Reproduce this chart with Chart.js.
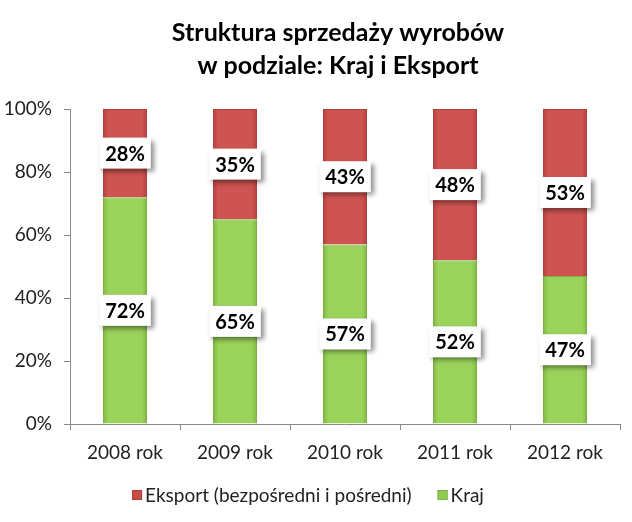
<!DOCTYPE html>
<html><head><meta charset="utf-8">
<script src="https://cdn.jsdelivr.net/npm/chart.js@4"></script>
<style>html,body{margin:0;padding:0;background:#fff}#wrap{width:632px;height:522px}</style>
</head><body><div id="wrap"><canvas id="c" width="632" height="522"></canvas></div>
<script>
const categories = ['2008 rok','2009 rok','2010 rok','2011 rok','2012 rok'];
const krajValues = [72, 65, 57, 52, 47];
const eksportValues = [28, 35, 43, 48, 53];
const yTicks = [0, 20, 40, 60, 80, 100];
const seriesNames = ['Kraj', 'Eksport (bezpośredni i pośredni)'];
const titleLines = ['Struktura sprzedaży wyrobów', 'w podziale: Kraj i Eksport'];

const FONT = 'Lato, "Open Sans", sans-serif';

function barGradient(edge, mid) {
  return function(ctx) {
    const chart = ctx.chart;
    if (!chart.chartArea || !chart.scales.x || ctx.dataIndex === undefined) return mid;
    const xs = chart.scales.x;
    const cx = xs.getPixelForValue(ctx.dataIndex);
    const w = (xs.width / categories.length) * 0.4;
    const g = chart.ctx.createLinearGradient(cx - w/2, 0, cx + w/2, 0);
    g.addColorStop(0, edge);
    g.addColorStop(0.12, mid);
    g.addColorStop(0.88, mid);
    g.addColorStop(1, edge);
    return g;
  };
}

const customTitle = {
  id: 'customTitle',
  afterDraw(chart) {
    const ctx = chart.ctx;
    ctx.save();
    ctx.font = 'bold 25px ' + FONT;
    ctx.fillStyle = '#000';
    ctx.textAlign = 'center';
    ctx.textBaseline = 'middle';
    const cx = (chart.chartArea.left + chart.chartArea.right) / 2 - 7;
    ctx.fillText(titleLines[0], cx, 33);
    ctx.fillText(titleLines[1], cx, 66);
    ctx.restore();
  }
};

const customLegend = {
  id: 'customLegend',
  afterDraw(chart) {
    const ctx = chart.ctx;
    ctx.save();
    ctx.font = '19px ' + FONT;
    ctx.textBaseline = 'middle';
    ctx.textAlign = 'left';
    const items = chart.data.datasets.slice().reverse();
    const box = 10, gap = 3, between = 26;
    const widths = items.map(d => ctx.measureText(d.label).width);
    const total = widths.reduce((a, w) => a + box + gap + w, 0) + between * (items.length - 1);
    let x = 308 - total / 2;
    const y = 495;
    items.forEach((d, i) => {
      ctx.fillStyle = d.legendColor;
      ctx.fillRect(x, y - box / 2, box, box);
      ctx.strokeStyle = d.borderColor;
      ctx.lineWidth = 1;
      ctx.strokeRect(x + 0.5, y - box / 2 + 0.5, box - 1, box - 1);
      x += box + gap;
      ctx.fillStyle = '#222';
      ctx.fillText(d.label, x, y + 1);
      x += widths[i] + between;
    });
    ctx.restore();
  }
};

const boxLabels = {
  id: 'boxLabels',
  afterDatasetsDraw(chart) {
    const ctx = chart.ctx;
    ctx.save();
    ctx.font = 'bold 20px ' + FONT;
    ctx.textAlign = 'center';
    ctx.textBaseline = 'middle';
    chart.data.datasets.forEach((ds, i) => {
      const meta = chart.getDatasetMeta(i);
      meta.data.forEach((bar, j) => {
        const p = bar.getProps(['x','y','base'], true);
        const cy = (p.y + p.base) / 2;
        const text = ds.data[j] + '%';
        const tw = ctx.measureText(text).width;
        const w = tw + 12, h = 31;
        ctx.save();
        ctx.shadowColor = 'rgba(0,0,0,0.45)';
        ctx.shadowBlur = 5;
        ctx.shadowOffsetX = 3;
        ctx.shadowOffsetY = 3;
        ctx.fillStyle = '#fff';
        ctx.fillRect(p.x - w/2, cy - h/2, w, h);
        ctx.restore();
        ctx.fillStyle = '#000';
        ctx.fillText(text, p.x, cy + 1);
      });
    });
    ctx.restore();
  }
};

new Chart(document.getElementById('c'), {
  type: 'bar',
  data: {
    labels: categories,
    datasets: [
      { label: seriesNames[0], data: krajValues,
        backgroundColor: barGradient('#80B846', '#9AD25A'), borderColor: '#7DAF45', borderWidth: 1,
        legendColor: '#92CC55' },
      { label: seriesNames[1], data: eksportValues,
        backgroundColor: barGradient('#B5413E', '#CD5451'), borderColor: '#B0403D', borderWidth: 1,
        legendColor: '#C94C49' }
    ]
  },
  options: {
    responsive: false,
    animation: false,
    layout: { padding: { left: 0, right: 12, top: 109, bottom: 58 } },
    datasets: { bar: { categoryPercentage: 1, barPercentage: 0.4 } },
    scales: {
      x: {
        stacked: true,
        offset: true,
        afterFit(scale) { scale.height = 40; },
        grid: { offset: true, drawOnChartArea: false, drawTicks: true, tickLength: 6, color: '#888' },
        border: { color: '#888', width: 1 },
        ticks: { color: '#222', font: { family: FONT, size: 19 }, padding: 11 }
      },
      y: {
        stacked: true,
        min: 0, max: 100,
        afterBuildTicks(scale) { scale.ticks = yTicks.map(v => ({ value: v })); },
        afterFit(scale) { scale.width = 70; },
        grid: { drawOnChartArea: false, drawTicks: true, tickLength: 6, color: '#888' },
        border: { color: '#888', width: 1 },
        ticks: { color: '#222', font: { family: FONT, size: 19 }, padding: 12, callback: v => v + '%' }
      }
    },
    plugins: {
      title: { display: false },
      legend: { display: false },
      tooltip: { enabled: false }
    }
  },
  plugins: [boxLabels, customTitle, customLegend]
});
</script></body></html>
